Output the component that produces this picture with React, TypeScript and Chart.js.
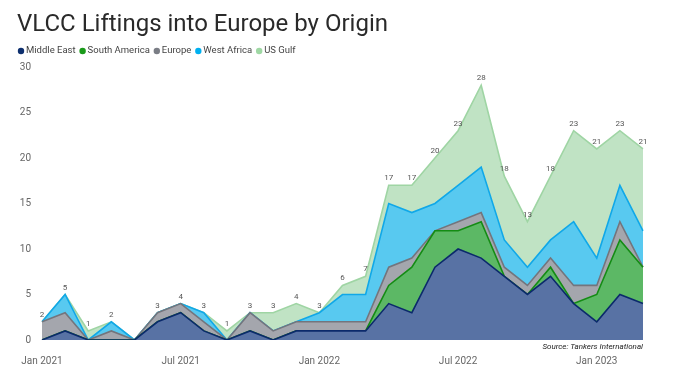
import React, { useEffect, useRef } from "react";
import { Chart, registerables } from "chart.js";

Chart.register(...registerables);

const months = [
  "Jan 2021", "Feb 2021", "Mar 2021", "Apr 2021", "May 2021", "Jun 2021",
  "Jul 2021", "Aug 2021", "Sep 2021", "Oct 2021", "Nov 2021", "Dec 2021",
  "Jan 2022", "Feb 2022", "Mar 2022", "Apr 2022", "May 2022", "Jun 2022",
  "Jul 2022", "Aug 2022", "Sep 2022", "Oct 2022", "Nov 2022", "Dec 2022",
  "Jan 2023", "Feb 2023", "Mar 2023",
];

const middleEast = [0, 1, 0, 0, 0, 2, 3, 1, 0, 1, 0, 1, 1, 1, 1, 4, 3, 8, 10, 9, 7, 5, 7, 4, 2, 5, 4];
const southAmerica = [0, 0, 0, 0, 0, 0, 0, 0, 0, 0, 0, 0, 0, 0, 0, 2, 5, 4, 2, 4, 0, 0, 1, 0, 3, 6, 4];
const europe = [2, 2, 0, 1, 0, 1, 1, 1, 0, 2, 1, 1, 1, 1, 1, 2, 1, 0, 1, 1, 1, 1, 1, 2, 1, 2, 0];
const westAfrica = [0, 2, 0, 1, 0, 0, 0, 1, 0, 0, 0, 0, 1, 3, 3, 7, 5, 3, 4, 5, 3, 2, 2, 7, 3, 4, 4];
const usGulf = [0, 0, 1, 0, 0, 0, 0, 0, 1, 0, 2, 2, 0, 1, 2, 2, 3, 5, 6, 9, 7, 5, 7, 10, 12, 6, 9];

const yTicks = [0, 5, 10, 15, 20, 25, 30];
const xTickMonths = ["Jan 2021", "Jul 2021", "Jan 2022", "Jul 2022", "Jan 2023"];

const seriesNames = ["Middle East", "South America", "Europe", "West Africa", "US Gulf"];
const fills = ["#5872a4", "#5cb865", "#a4a6ad", "#58c9f0", "#c0e3c4"];
const lines = ["#0b2a6b", "#148c14", "#73757d", "#10a8e8", "#9fd5a4"];
const markers = ["#0d2f6e", "#1a9a1a", "#7a7d85", "#00b0f0", "#9fd8a4"];

const FONT = "Roboto, 'DejaVu Sans', sans-serif";

const overlay = {
  id: "overlay",
  afterDatasetsDraw(chart: any) {
    const ctx = chart.ctx;
    const lastMeta = chart.getDatasetMeta(chart.data.datasets.length - 1);
    ctx.save();
    ctx.font = `8px ${FONT}`;
    ctx.fillStyle = "#555555";
    ctx.textAlign = "center";
    ctx.textBaseline = "middle";
    months.forEach((_, i) => {
      const total = middleEast[i] + southAmerica[i] + europe[i] + westAfrica[i] + usGulf[i];
      if (total <= 0) return;
      const p = lastMeta.data[i];
      ctx.fillText(String(total), p.x, p.y - 7);
    });
    ctx.restore();
  },
  afterDraw(chart: any) {
    const ctx = chart.ctx;
    ctx.save();
    // title
    ctx.font = `24px ${FONT}`;
    ctx.fillStyle = "#2a2a2a";
    ctx.textAlign = "left";
    ctx.textBaseline = "alphabetic";
    ctx.fillText("VLCC Liftings into Europe by Origin", 17, 31);
    // legend
    ctx.font = `9.5px ${FONT}`;
    ctx.textBaseline = "middle";
    let x = 21;
    const y = 51;
    seriesNames.forEach((name, i) => {
      ctx.beginPath();
      ctx.fillStyle = markers[i];
      ctx.arc(x, y, 3.2, 0, Math.PI * 2);
      ctx.fill();
      ctx.fillStyle = "#444444";
      ctx.fillText(name, x + 5, y);
      x += 5 + ctx.measureText(name).width + 7;
    });
    // source
    ctx.font = `italic 8px ${FONT}`;
    ctx.fillStyle = "#222222";
    ctx.textAlign = "right";
    ctx.textBaseline = "middle";
    ctx.fillText("Source: Tankers International", chart.chartArea.right, 347);
    ctx.restore();
  },
};

export default function App() {
  const ref = useRef<HTMLCanvasElement | null>(null);
  useEffect(() => {
    if (!ref.current) return;
    const series = [middleEast, southAmerica, europe, westAfrica, usGulf];
    const chart = new Chart(ref.current, {
      type: "line",
      data: {
        labels: months,
        datasets: series.map((d, i) => ({
          label: seriesNames[i],
          data: d,
          backgroundColor: fills[i],
          borderColor: lines[i],
          borderWidth: 1.6,
          fill: i === 0 ? "origin" : "-1",
          tension: 0,
          pointRadius: 0,
          pointHoverRadius: 0,
        })),
      },
      options: {
        responsive: false,
        animation: false,
        layout: { padding: { left: 0, right: 34, top: 67, bottom: 0 } },
        plugins: {
          legend: { display: false },
          title: { display: false },
          tooltip: { enabled: false },
        },
        scales: {
          x: {
            type: "category",
            offset: false,
            grid: { display: false, drawTicks: false },
            border: { display: false },
            afterFit: (s: any) => { s.height = 38; },
            ticks: {
              autoSkip: false,
              maxRotation: 0,
              padding: 15,
              color: "#666666",
              font: { family: FONT, size: 10 },
              callback: (_v: any, idx: number) =>
                xTickMonths.includes(months[idx]) ? months[idx] : "",
            },
          },
          y: {
            stacked: true,
            min: yTicks[0],
            max: yTicks[yTicks.length - 1],
            grid: { display: false, drawTicks: false },
            border: { display: false },
            afterFit: (s: any) => { s.width = 42; },
            afterBuildTicks: (s: any) => { s.ticks = yTicks.map((v) => ({ value: v })); },
            ticks: {
              padding: 11,
              color: "#666666",
              font: { family: FONT, size: 10 },
            },
          },
        },
      },
      plugins: [overlay],
    });
    return () => chart.destroy();
  }, []);
  return (
    <div style={{ position: "absolute", left: 0, top: 0, width: 677, height: 378, background: "#ffffff" }}>
      <canvas ref={ref} width={677} height={378} />
    </div>
  );
}
